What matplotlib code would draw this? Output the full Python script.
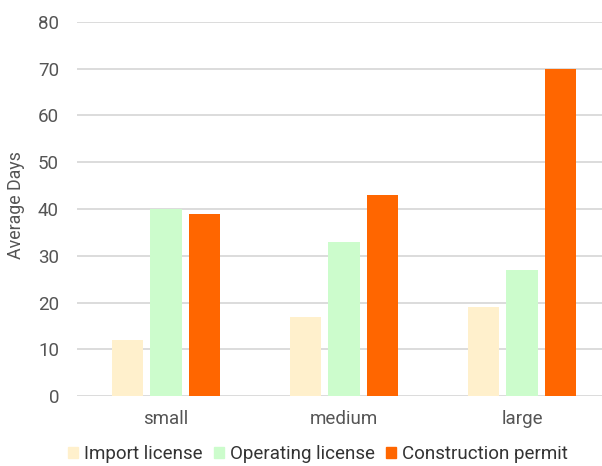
import numpy as np
import matplotlib.pyplot as plt
from matplotlib.patches import Patch

plt.rcParams['font.family'] = ['Roboto', 'DejaVu Sans']

categories = ["small", "medium", "large"]
series_names = ["Import license", "Operating license", "Construction permit"]
import_license = [12, 17, 19]
operating_license = [40, 33, 27]
construction_permit = [39, 43, 70]
colors = ["#fff0cc", "#ccfccc", "#ff6600"]


def main():
    fig = plt.figure(figsize=(6.02, 4.66), dpi=100)
    ax = fig.add_axes([0.128, 0.150, 0.887, 0.803])

    x = np.arange(len(categories))
    width = 0.175
    step = 0.216
    series = [import_license, operating_license, construction_permit]
    for i, (vals, col) in enumerate(zip(series, colors)):
        ax.bar(x + (i - 1) * step, vals, width, color=col, zorder=3)

    ax.set_xlim(-0.5, 2.5)
    ax.set_ylim(0, 80)
    ax.set_yticks(range(0, 81, 10))
    ax.set_xticks(x)
    ax.set_xticklabels(categories)
    ax.grid(axis="y", color="#d9d9d9", linewidth=1.3, zorder=0)
    ax.set_axisbelow(True)
    for s in ax.spines.values():
        s.set_visible(False)
    ax.tick_params(length=0, labelsize=13.5, labelcolor="#555555")
    ax.tick_params(axis="y", pad=13)
    ax.tick_params(axis="x", pad=10)
    ax.set_ylabel("Average Days", fontsize=12.8, color="#555555")
    ax.yaxis.set_label_coords(-0.097, 0.51)

    handles = [Patch(color=c, label=n) for c, n in zip(colors, series_names)]
    fig.legend(handles=handles, loc="center", bbox_to_anchor=(0.528, 0.025),
               ncol=3, frameon=False, fontsize=13.5, labelcolor="#333333",
               handlelength=0.55, handleheight=0.55, handletextpad=0.3,
               columnspacing=0.6, borderaxespad=0)

    fig.savefig("out.png", dpi=100)
    plt.close(fig)


if __name__ == "__main__":
    main()
